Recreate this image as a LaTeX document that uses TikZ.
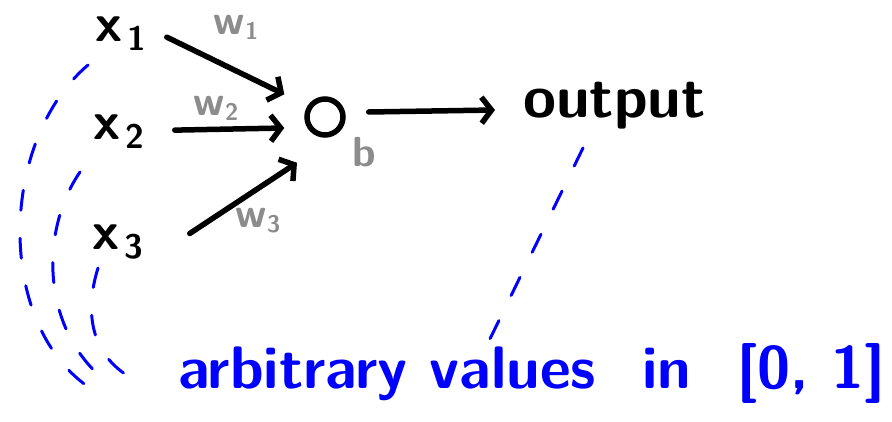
\documentclass[tikz,border=0pt]{standalone}
\usepackage{tikz}
\usetikzlibrary{arrows.meta}
\newcommand{\xsub}[1]{x\raisebox{-9pt}{\fontsize{34}{34}\selectfont\,#1}}
\newcommand{\wsub}[1]{w\raisebox{-5pt}{\fontsize{24}{24}\selectfont #1}}

\begin{document}
\begin{tikzpicture}[x=1pt, y=-1pt, every node/.style={inner sep=0pt, font=\sffamily\bfseries},
  inp/.style={anchor=base west, font=\sffamily\bfseries\fontsize{54}{60}\selectfont},
  wlab/.style={text=black!45, font=\sffamily\bfseries\fontsize{42}{44}\selectfont},
  arr/.style={-{Straight Barb[length=10pt, width=26pt]}, line width=5.5pt, line cap=round},
  link/.style={blue, line width=3pt, line cap=round, dash pattern=on 20pt off 28pt}]
\useasboundingbox (0,0) rectangle (892,422);
% inputs, neuron, output
\node[inp] (x1) at (95,42) {\xsub{1}};
\node[inp] (x2) at (93,140) {\xsub{2}};
\node[inp] (x3) at (92,250) {\xsub{3}};
\node[circle, draw, line width=5.5pt, minimum size=36pt] (neuron) at (325,117) {};
\node[wlab] (bias) at (364,152) {b};
\node[anchor=base west, font=\sffamily\bfseries\fontsize{60}{62}\selectfont] (output) at (523,118) {output};
% weights
\node[wlab] (w1) at (236,27) {\wsub{1}};
\node[wlab] (w2) at (216,108) {\wsub{2}};
\node[wlab] (w3) at (258,221) {\wsub{3}};
% note
\node[anchor=base west, text=blue, font=\sffamily\bfseries\fontsize{60}{64}\selectfont] (note) at (178,388)
  {arbitrary values\hspace{24pt} in\hspace{24pt} [0, 1]};
\draw[arr] ([shift={(20,3)}]x1.east) -- ([shift={(-26,-8)}]neuron.north west);
\draw[arr] ([shift={(30,-2)}]x2.east) -- ([shift={(-20,11)}]neuron.west);
\draw[arr] ([shift={(46,-9)}]x3.east) -- ([shift={(-28,25)}]neuron.south);
\draw[arr] ([shift={(23,-5)}]neuron.east) -- ([shift={(-28,-8)}]output.base west);
% dashed links to the note
\draw[link] ([shift={(-7,23)}]x1.base west) .. controls (0,140) and (-5,320) .. ([shift={(-91,-2)}]note.base west);
\draw[link] ([shift={(-13,32)}]x2.base west) .. controls (40,230) and (40,330) .. ([shift={(-70,-5)}]note.base west);
\draw[link] ([shift={(6,18)}]x3.base west) .. controls (85,310) and (90,350) .. ([shift={(-53,-14)}]note.base west);
\draw[link] ([shift={(60,30)}]output.base west) -- ([shift={(309,-43)}]note.base west);
\end{tikzpicture}
\end{document}
